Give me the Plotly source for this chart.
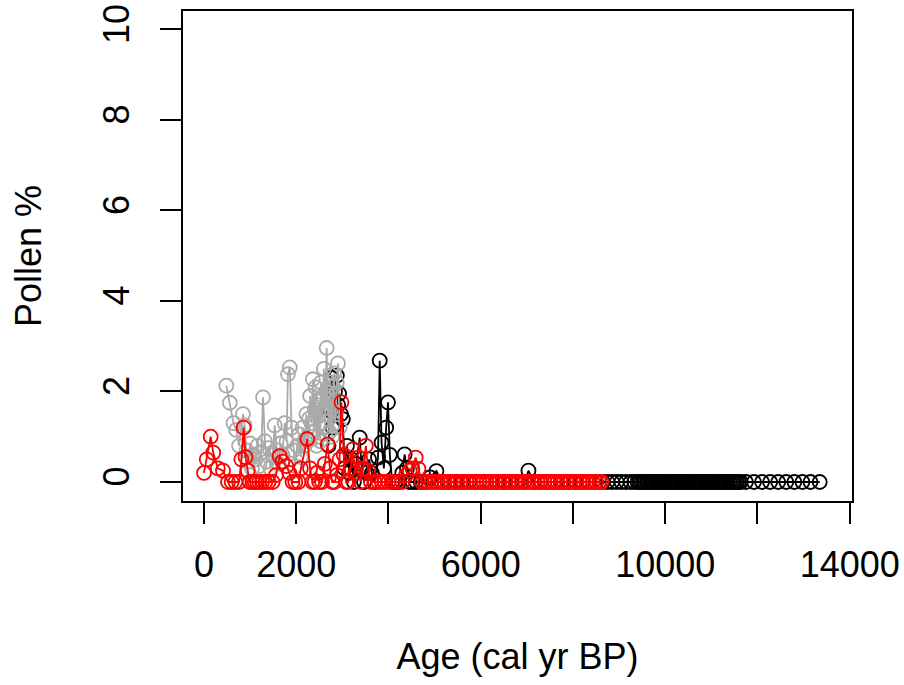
import plotly.graph_objects as go

# ---------------- data ----------------
black_age = [2700, 2730, 2760, 2790, 2810, 2840, 2880, 2910, 2930, 2970,
             3010, 3050, 3100, 3150, 3200, 3250, 3300, 3376, 3420, 3470,
             3530, 3580, 3640, 3700, 3773, 3810, 3850, 3900, 3950, 3990,
             4030, 4080, 4150, 4220, 4300, 4350, 4400, 4450, 4520, 4600,
             4700, 4800, 4900, 5040, 5150, 5300, 5450, 5600, 5750, 5900,
             6050, 6200, 6350, 6500, 6650, 6800, 6950, 7035, 7150, 7300,
             7450, 7600, 7750, 7900, 8050, 8200, 8350, 8500, 8650, 8750,
             8850, 8950, 9050, 9150, 9250, 9330, 9400, 9440, 9480, 9520,
             9560, 9600, 9640, 9680, 9720, 9760, 9800, 9840, 9880, 9920,
             9960, 10000, 10040, 10080, 10120, 10160, 10200, 10240, 10280, 10320,
             10360, 10400, 10440, 10480, 10520, 10560, 10600, 10640, 10680, 10720,
             10760, 10800, 10840, 10880, 10920, 10960, 11000, 11040, 11080, 11120,
             11160, 11200, 11240, 11280, 11320, 11360, 11400, 11440, 11480, 11520,
             11560, 11600, 11640, 11750, 11925, 12100, 12275, 12450, 12625, 12800,
             12975, 13150, 13350]
black_val = [0.8, 1.6, 2.3, 1.2, 1.5, 2.0, 2.35, 1.7, 1.95, 1.5,
             1.39, 0.3, 0.8, 0.2, 0.5, 0.0, 0.4, 0.98, 0.3, 0.0,
             0.2, 0.5, 0.2, 0.0, 0.54, 2.68, 0.87, 0.3, 1.2, 1.76,
             0.6, 0.0, 0.0, 0.0, 0.2, 0.61, 0.3, 0.0, 0.0, 0.0,
             0.0, 0.0, 0.1, 0.24, 0.0, 0.0, 0.0, 0.0, 0.0, 0.0,
             0.0, 0.0, 0.0, 0.0, 0.0, 0.0, 0.0, 0.25, 0.0, 0.0,
             0.0, 0.0, 0.0, 0.0, 0.0, 0.0, 0.0, 0.0, 0.0, 0.0,
             0.0, 0.0, 0.0, 0.0, 0.0, 0.0, 0.0, 0.0, 0.0, 0.0,
             0.0, 0.0, 0.0, 0.0, 0.0, 0.0, 0.0, 0.0, 0.0, 0.0,
             0.0, 0.0, 0.0, 0.0, 0.0, 0.0, 0.0, 0.0, 0.0, 0.0,
             0.0, 0.0, 0.0, 0.0, 0.0, 0.0, 0.0, 0.0, 0.0, 0.0,
             0.0, 0.0, 0.0, 0.0, 0.0, 0.0, 0.0, 0.0, 0.0, 0.0,
             0.0, 0.0, 0.0, 0.0, 0.0, 0.0, 0.0, 0.0, 0.0, 0.0,
             0.0, 0.0, 0.0, 0.0, 0.0, 0.0, 0.0, 0.0, 0.0, 0.0,
             0.0, 0.0, 0.0]

gray_age = [485, 560, 640, 700, 760, 845, 880, 920, 960, 1000,
            1040, 1080, 1120, 1160, 1200, 1240, 1280, 1320, 1360, 1400,
            1440, 1490, 1533, 1580, 1620, 1660, 1700, 1750, 1790, 1820,
            1860, 1900, 1940, 1980, 2020, 2060, 2100, 2140, 2180, 2220,
            2250, 2280, 2300, 2330, 2360, 2380, 2400, 2420, 2440, 2460,
            2480, 2500, 2520, 2540, 2560, 2580, 2600, 2620, 2640, 2660,
            2680, 2700, 2720, 2740, 2760, 2780, 2800, 2820, 2840, 2860,
            2880, 2905, 2940]
gray_val = [2.13, 1.75, 1.3, 1.15, 0.8, 1.5, 1.25, 0.7, 0.45, 0.85,
            0.3, 0.6, 0.5, 0.8, 0.35, 0.65, 1.87, 0.9, 0.45, 0.75,
            0.3, 0.6, 1.25, 0.7, 0.4, 0.85, 0.6, 1.3, 0.9, 2.38,
            2.53, 1.2, 0.7, 0.35, 0.8, 1.05, 0.55, 1.2, 0.8, 1.5,
            0.9, 1.4, 1.9, 1.3, 2.27, 1.1, 1.6, 2.09, 0.8, 1.7,
            1.0, 1.8, 0.9, 2.2, 1.3, 1.9, 2.5, 1.2, 2.0, 2.96,
            1.5, 1.8, 1.1, 2.2, 1.6, 1.0, 2.1, 2.4, 1.3, 1.5,
            2.2, 2.62, 1.2]

red_age = [0, 60, 145, 200, 300, 412, 520, 600, 680, 760,
           810, 860, 900, 950, 990, 1050, 1100, 1150, 1200, 1260,
           1330, 1400, 1490, 1560, 1640, 1700, 1786, 1850, 1920, 1980,
           2050, 2100, 2240, 2300, 2350, 2400, 2450, 2500, 2560, 2620,
           2680, 2730, 2780, 2830, 2880, 2940, 2980, 3030, 3080, 3130,
           3180, 3230, 3280, 3340, 3400, 3450, 3510, 3560, 3620, 3700,
           3780, 3850, 3920, 4000, 4100, 4200, 4300, 4380, 4460, 4520,
           4590, 4650, 4720, 4790, 4860, 4930, 5000, 5070, 5140, 5210,
           5280, 5350, 5420, 5490, 5560, 5630, 5700, 5770, 5840, 5910,
           5980, 6050, 6120, 6190, 6260, 6330, 6400, 6470, 6540, 6610,
           6680, 6750, 6820, 6890, 6960, 7030, 7100, 7170, 7240, 7310,
           7380, 7450, 7520, 7590, 7660, 7730, 7800, 7870, 7940, 8010,
           8080, 8150, 8220, 8290, 8360, 8430, 8500, 8570, 8620]
red_val = [0.2, 0.5, 1.0, 0.65, 0.3, 0.25, 0.0, 0.0, 0.0, 0.0,
           0.5, 1.2, 0.55, 0.25, 0.0, 0.0, 0.0, 0.0, 0.0, 0.0,
           0.0, 0.0, 0.0, 0.15, 0.57, 0.45, 0.35, 0.2, 0.0, 0.0,
           0.0, 0.3, 0.95, 0.3, 0.0, 0.0, 0.2, 0.0, 0.0, 0.4,
           0.83, 0.3, 0.0, 0.0, 0.15, 0.5, 1.76, 0.6, 0.0, 0.0,
           0.3, 0.72, 0.2, 0.54, 0.0, 0.3, 0.8, 0.25, 0.0, 0.0,
           0.0, 0.0, 0.0, 0.0, 0.0, 0.0, 0.0, 0.15, 0.25, 0.3,
           0.54, 0.29, 0.0, 0.0, 0.0, 0.0, 0.0, 0.0, 0.0, 0.0,
           0.0, 0.0, 0.0, 0.0, 0.0, 0.0, 0.0, 0.0, 0.0, 0.0,
           0.0, 0.0, 0.0, 0.0, 0.0, 0.0, 0.0, 0.0, 0.0, 0.0,
           0.0, 0.0, 0.0, 0.0, 0.0, 0.0, 0.0, 0.0, 0.0, 0.0,
           0.0, 0.0, 0.0, 0.0, 0.0, 0.0, 0.0, 0.0, 0.0, 0.0,
           0.0, 0.0, 0.0, 0.0, 0.0, 0.0, 0.0, 0.0, 0.0]

x_tickvals = [0, 2000, 4000, 6000, 8000, 10000, 12000, 14000]
x_ticktext = ["0", "2000", "", "6000", "", "10000", "", "14000"]
y_tickvals = [0, 2, 4, 6, 8, 10]
y_ticktext = ["0", "2", "4", "6", "8", "10"]

# ---------------- figure ----------------
FONT = "Liberation Sans, Arial, sans-serif"
FS = 36

fig = go.Figure()
for ages, vals, col in [(black_age, black_val, "#000000"),
                        (gray_age, gray_val, "#AAAAAA"),
                        (red_age, red_val, "#FF0000")]:
    fig.add_trace(go.Scatter(
        x=ages, y=vals, mode="lines+markers",
        line=dict(color=col, width=1.8),
        marker=dict(symbol="circle-open", size=14, color=col, line=dict(color=col, width=1.8)),
        showlegend=False, hoverinfo="skip"))

axis_common = dict(showgrid=False, zeroline=False, showline=True, mirror=True,
                   linecolor="#000000", linewidth=1.5, ticks="outside", ticklen=21,
                   tickwidth=1.5, tickcolor="#000000",
                   tickfont=dict(family=FONT, size=FS, color="#000000"))

fig.update_xaxes(range=[-455, 14050], tickmode="array", tickvals=x_tickvals,
                 ticktext=x_ticktext, ticklabelstandoff=10,
                 title=dict(text="Age (cal yr BP)", font=dict(family=FONT, size=FS, color="#000000"),
                            standoff=60),
                 **axis_common)
fig.update_yaxes(range=[-0.42, 10.405], tickmode="array", tickvals=y_tickvals,
                 ticktext=y_ticktext, tickangle=-90, ticklabelstandoff=17,
                 title=dict(text="Pollen %", font=dict(family=FONT, size=FS, color="#000000"),
                            standoff=43),
                 **axis_common)

fig.update_layout(width=904, height=685, autosize=False,
                  margin=dict(l=183, r=52, t=11, b=184, autoexpand=False),
                  plot_bgcolor="#FFFFFF", paper_bgcolor="#FFFFFF",
                  font=dict(family=FONT, size=FS, color="#000000"))

fig.write_html("out.html")
